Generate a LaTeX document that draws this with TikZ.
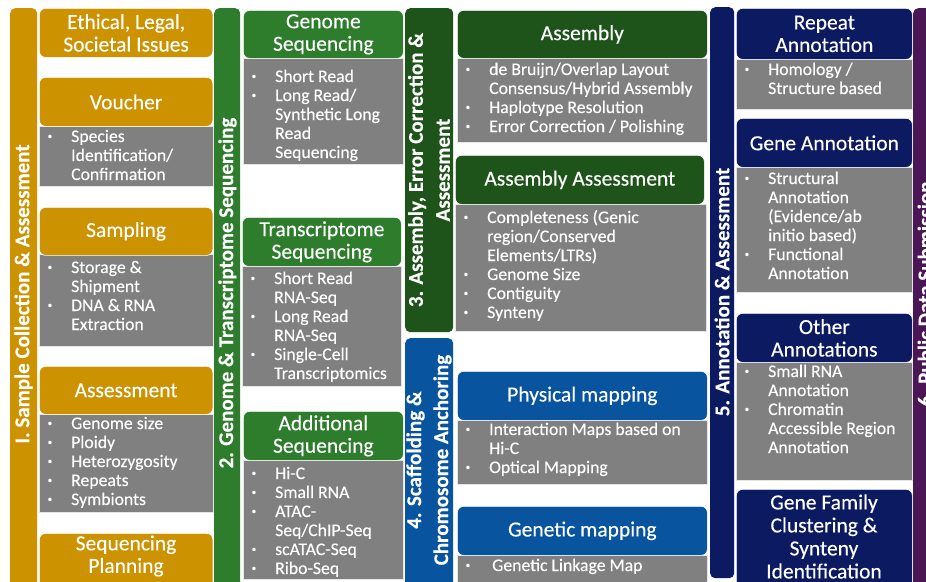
\documentclass[tikz,border=0pt]{standalone}
\usepackage{fontspec}
\setmainfont{Carlito}[FakeBold=0.25]
\definecolor{cgold}{RGB}{204,146,0}
\definecolor{cgreen}{RGB}{46,125,45}
\definecolor{cdgreen}{RGB}{30,84,26}
\definecolor{cblue}{RGB}{8,84,158}
\definecolor{cnavy}{RGB}{12,26,98}
\definecolor{cpurple}{RGB}{74,22,86}
\definecolor{cgray}{RGB}{128,128,128}
\newcommand\hdrfont{\fontsize{21.5}{22.5}\selectfont}
\newcommand\lstfont{\fontsize{17.7}{19}\selectfont}
\newcommand\barfont{\fontsize{21}{27}\selectfont\bfseries}
\newcommand\bi{\makebox[25pt][l]{\hspace{1.5pt}\raisebox{3pt}{\fontsize{9}{9}\selectfont\textbullet}}}
\newcommand\ct{\hspace*{25pt}}
\newcommand\blist[1]{\begin{tabular}[t]{@{}l@{}}#1\end{tabular}}
\tikzset{
  hdr/.style={rounded corners=6pt, draw=white, line width=0.7pt, text=white,
    inner sep=0pt, anchor=north west, font=\hdrfont, align=center},
  htxt/.style={text=white, inner sep=0pt, font=\hdrfont, align=center},
  body/.style={fill=cgray, draw=white!80!cgray, line width=0.6pt, inner sep=0pt,
    anchor=north west},
  lst/.style={anchor=base west, inner sep=0pt, text=white, font=\lstfont},
  bar/.style={rounded corners=5pt, inner sep=0pt, anchor=north west},
  bartxt/.style={rotate=90, text=white, font=\barfont, align=center, inner sep=0pt}
}
\begin{document}
\begin{tikzpicture}[x=1pt,y=-1pt]
\useasboundingbox (0,0) rectangle (926,581);
\fill[white] (0,0) rectangle (926,581);
% ---------- bars ----------
\node[bar, fill=cgold, minimum width=27pt, minimum height=590pt] (bar1) at (10,8) {};
\node[bar, fill=cgreen, minimum width=26pt, minimum height=590pt] (bar2) at (214,8) {};
\node[bar, fill=cdgreen, minimum width=48pt, minimum height=324pt] (bar3) at (405,8) {};
\node[bar, fill=cblue, minimum width=48pt, minimum height=260pt] (bar4) at (405,338) {};
\node[bar, fill=cnavy, minimum width=24pt, minimum height=571pt] (bar5) at (710,7) {};
\node[bar, fill=cpurple, minimum width=30pt, minimum height=590pt] (bar6) at (913,8) {};
\node[bartxt] (t1) at (23.5,294) {I. Sample Collection \& Assessment};
\node[bartxt] (t2) at (227.5,293) {2. Genome \& Transcriptome Sequencing};
\node[bartxt] (t3) at (429,170) {3. Assembly, Error Correction \&\\Assessment};
\node[bartxt] (t4) at (429,460) {4. Scaffolding \&\\Chromosome Anchoring};
\node[bartxt] (t5) at (722,292) {5. Annotation \& Assessment};
\node[bartxt] (t6) at (925,294) {6. Public Data Submission};
% ---------- column 1 ----------
\node[hdr, fill=cgold, minimum width=173.5pt, minimum height=49pt] (eth) at (39,8) {Ethical, Legal,\\Societal Issues};
\node[body, minimum width=174pt, minimum height=60pt] (voub) at (38.5,126) {};
\node[hdr, fill=cgold, minimum width=173.5pt, minimum height=49pt] (vouh) at (39,77) {Voucher};
\node[lst] (voul) at (46,142) {\blist{\bi Species\\ \ct Identification/\\ \ct Confirmation}};
\node[body, minimum width=174pt, minimum height=92pt] (samb) at (38.5,254) {};
\node[hdr, fill=cgold, minimum width=173.5pt, minimum height=48pt] (samh) at (39,207) {Sampling};
\node[lst] (saml) at (46,273) {\blist{\bi Storage \&\\ \ct Shipment\\ \bi DNA \& RNA\\ \ct Extraction}};
\node[body, minimum width=174pt, minimum height=98pt] (assb) at (38.5,414) {};
\node[hdr, fill=cgold, minimum width=173.5pt, minimum height=48pt] (assh) at (39,366) {Assessment};
\node[lst] (assl) at (46,429) {\blist{\bi Genome size\\ \bi Ploidy\\ \bi Heterozygosity\\ \bi Repeats\\ \bi Symbionts}};
\node[hdr, fill=cgold, minimum width=173.5pt, minimum height=62pt] (seqh) at (39,533) {};
\node[htxt] (seqt) at (126,556) {Sequencing\\Planning};
% ---------- column 2 ----------
\node[body, minimum width=160pt, minimum height=106pt] (genb) at (243,58) {};
\node[hdr, fill=cgreen, minimum width=160pt, minimum height=48pt] (genh) at (243,10) {Genome\\Sequencing};
\node[lst] (genl) at (250,82) {\blist{\bi Short Read\\ \bi Long Read/\\ \ct Synthetic Long\\ \ct Read\\ \ct Sequencing}};
\node[body, minimum width=159pt, minimum height=120pt] (trab) at (242,266) {};
\node[hdr, fill=cgreen, minimum width=159pt, minimum height=49pt] (trah) at (242,217) {Transcriptome\\Sequencing};
\node[lst] (tral) at (249,284) {\blist{\bi Short Read\\ \ct RNA-Seq\\ \bi Long Read\\ \ct RNA-Seq\\ \bi Single-Cell\\ \ct Transcriptomics}};
\node[body, minimum width=160pt, minimum height=119pt] (addb) at (243,460) {};
\node[hdr, fill=cgreen, minimum width=160pt, minimum height=49pt] (addh) at (243,411) {Additional\\Sequencing};
\node[lst] (addl) at (250,479) {\blist{\bi Hi-C\\ \bi Small RNA\\ \bi ATAC-\\ \ct Seq/ChIP-Seq\\ \bi scATAC-Seq\\ \bi Ribo-Seq}};
% ---------- column 3 ----------
\node[body, minimum width=250pt, minimum height=84pt] (asmb) at (457,58) {};
\node[hdr, fill=cdgreen, minimum width=250pt, minimum height=48pt] (asmh) at (457,10) {Assembly};
\node[lst] (asml) at (464,75) {\blist{\bi de Bruijn/Overlap Layout\\ \ct Consensus/Hybrid Assembly\\ \bi Haplotype Resolution\\ \bi Error Correction / Polishing}};
\node[body, minimum width=251pt, minimum height=127pt] (aasb) at (455,204) {};
\node[hdr, fill=cdgreen, minimum width=249pt, minimum height=49pt] (aash) at (455,155) {Assembly Assessment};
\node[lst] (aasl) at (462,223) {\blist{\bi Completeness (Genic\\ \ct region/Conserved\\ \ct Elements/LTRs)\\ \bi Genome Size\\ \bi Contiguity\\ \bi Synteny}};
\node[body, minimum width=250pt, minimum height=64pt] (phyb) at (457,420) {};
\node[hdr, fill=cblue, minimum width=250pt, minimum height=49pt] (phyh) at (457,371) {Physical mapping};
\node[lst] (phyl) at (464,435) {\blist{\bi Interaction Maps based on\\ \ct Hi-C\\ \bi Optical Mapping}};
\node[body, minimum width=250pt, minimum height=40pt] (gmpb) at (457,555) {};
\node[hdr, fill=cblue, minimum width=250pt, minimum height=49pt] (gmph) at (457,506) {Genetic mapping};
\node[lst] (gmpl) at (464,571) {\blist{\bi \hspace{3pt}Genetic Linkage Map}};
% ---------- column 4 ----------
\node[body, minimum width=176pt, minimum height=50pt] (repb) at (736,59) {};
\node[hdr, fill=cnavy, minimum width=176pt, minimum height=51pt] (reph) at (736,8) {Repeat\\Annotation};
\node[lst] (repl) at (743,75) {\blist{\bi Homology /\\ \ct Structure based}};
\node[body, minimum width=176pt, minimum height=125pt] (ganb) at (736,167) {};
\node[hdr, fill=cnavy, minimum width=176pt, minimum height=49pt] (ganh) at (736,118) {Gene Annotation};
\node[lst] (ganl) at (743,184) {\blist{\bi Structural\\ \ct Annotation\\ \ct (Evidence/ab\\ \ct initio based)\\ \bi Functional\\ \ct Annotation}};
\node[body, minimum width=176pt, minimum height=118pt] (othb) at (736,362) {};
\node[hdr, fill=cnavy, minimum width=176pt, minimum height=49pt] (othh) at (736,313) {Other\\Annotations};
\node[lst] (othl) at (743,377) {\blist{\bi Small RNA\\ \ct Annotation\\ \bi Chromatin\\ \ct Accessible Region\\ \ct Annotation}};
\node[hdr, fill=cnavy, minimum width=176pt, minimum height=105pt] (gfch) at (736,489) {};
\node[htxt, font=\fontsize{21.5}{23}\selectfont] (gfct) at (824,536.5) {Gene Family\\Clustering \&\\Synteny\\Identification};
\end{tikzpicture}
\end{document}
